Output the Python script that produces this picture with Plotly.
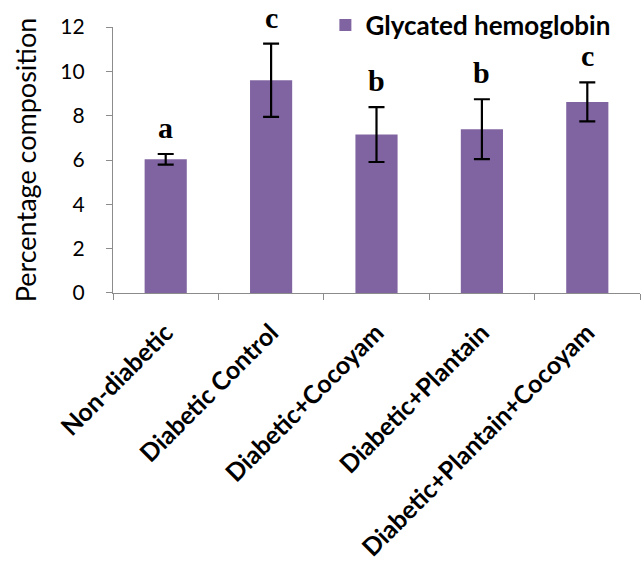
import plotly.graph_objects as go

categories = ["Non-diabetic", "Diabetic Control", "Diabetic+Cocoyam",
              "Diabetic+Plantain", "Diabetic+Plantain+Cocoyam"]
values = [6.03, 9.6, 7.15, 7.39, 8.62]
errors = [0.24, 1.65, 1.24, 1.35, 0.88]
letters = ["a", "c", "b", "b", "c"]
series_name = "Glycated hemoglobin"
y_ticks = [0, 2, 4, 6, 8, 10, 12]

BAR = "#8064A2"
AXIS = "#8C8C8C"

fig = go.Figure()
fig.add_trace(go.Bar(
    x=categories, y=values, name=series_name,
    marker=dict(color=BAR, line=dict(width=0)),
    width=0.4,
    error_y=dict(type="data", array=errors, visible=True,
                 color="black", thickness=2.2, width=8),
    showlegend=True,
))

for c, v, e, l in zip(categories, values, errors, letters):
    fig.add_annotation(x=c, y=v + e, text=f"<b>{l}</b>", showarrow=False,
                       yanchor="bottom", yshift=8,
                       font=dict(family="Liberation Serif", size=30, color="black"))

fig.update_layout(
    width=643, height=561,
    margin=dict(l=113, r=3, t=10, b=268, autoexpand=False),
    paper_bgcolor="white", plot_bgcolor="white",
    legend=dict(x=0.403, y=0.947, xanchor="left", yanchor="middle",
                font=dict(family="Lato", size=26, color="black", weight="bold"),
                bgcolor="rgba(0,0,0,0)", itemwidth=30),
    showlegend=True,
)
fig.update_xaxes(
    type="category", automargin=False,
    showline=True, linecolor=AXIS, linewidth=1.3,
    ticks="outside", tickson="boundaries", ticklen=6, tickcolor=AXIS,
    tickangle=-45, ticklabelstandoff=14,
    tickfont=dict(family="Lato", size=25, color="black", weight="bold"),
    showgrid=False, zeroline=False,
)
fig.update_yaxes(
    range=[0, 12], tickvals=y_ticks, domain=[0, 0.9399], automargin=False,
    showline=True, linecolor=AXIS, linewidth=1.3,
    ticks="outside", ticklen=6, tickcolor=AXIS,
    tickfont=dict(family="Lato", size=21, color="black"),
    ticklabelstandoff=17,
    showgrid=False, zeroline=False,
    title=dict(text="Percentage composition",
               font=dict(family="Lato", size=27, color="black"),
               standoff=15),
)

fig.write_html("out.html", config={"displayModeBar": False},
               post_script="document.body.style.margin='0';")
